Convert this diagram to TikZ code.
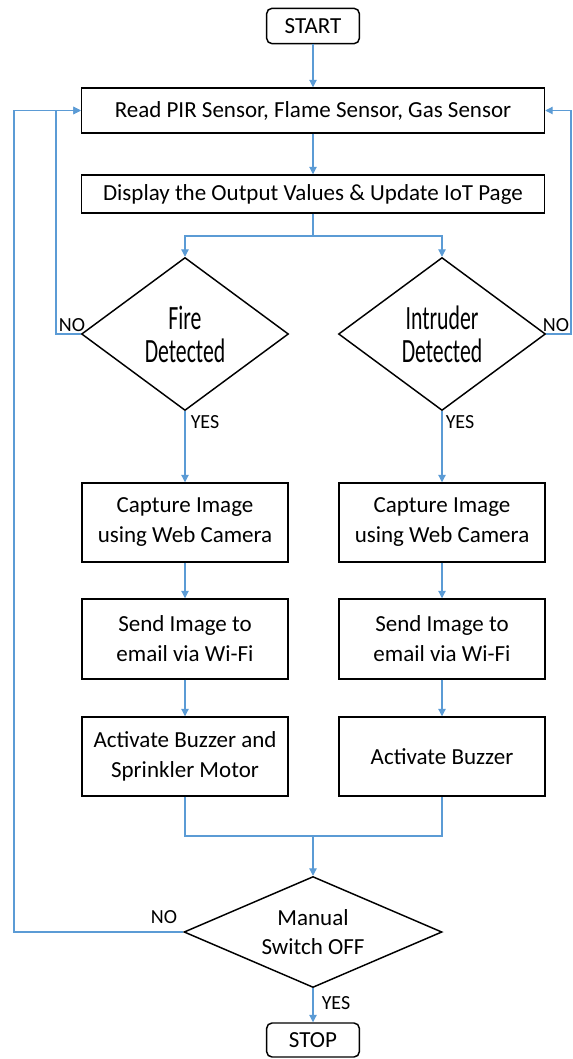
\documentclass[tikz,border=0pt]{standalone}
\usepackage{fontspec}
\setmainfont{Carlito}
\newfontfamily\stretta[FakeStretch=0.64]{Carlito}
\usetikzlibrary{shapes.geometric, arrows.meta}
\definecolor{azzurro}{RGB}{91,155,213}

\tikzset{
    blocco/.style={draw, line width=1.1pt, align=center, inner sep=0pt,
        font=\fontsize{17.25}{22.5}\selectfont, minimum width=154.5pt, minimum height=59.25pt},
    largo/.style={blocco, font=\fontsize{17.25}{20}\selectfont, minimum width=347.25pt},
    terminale/.style={draw, line width=1.1pt, rounded corners=4pt, inner sep=0pt,
        font=\fontsize{17.25}{20}\selectfont, minimum width=69.5pt, minimum height=26.5pt},
    scelta/.style={draw, diamond, line width=1.1pt, align=center, inner sep=0pt},
    linea/.style={draw=azzurro, line width=0.8pt},
    freccia/.style={linea, -{Triangle[length=5.5pt, width=5.5pt]}},
    etichetta/.style={font=\fontsize{15}{17}\selectfont, inner sep=0pt}
}

\begin{document}
\begin{tikzpicture}[x=0.75pt, y=-0.75pt]
        \useasboundingbox (0,0) rectangle (573,1059);
        % blocchi
            \node[terminale] (start) at (313,26) {START};
            \node[largo, minimum height=33.75pt] (read) at (313,110.5) {Read PIR Sensor, Flame Sensor, Gas Sensor};
            \node[largo, minimum height=28.5pt] (disp) at (313,194) {Display the Output Values \& Update IoT Page};
            \node[scelta, minimum width=155.25pt, minimum height=114.75pt,
                font=\stretta\fontsize{25.5}{24.75}\selectfont] (fire) at (185,334) {Fire\\Detected};
            \node[scelta, minimum width=155.25pt, minimum height=114.75pt,
                font=\stretta\fontsize{25.5}{24.75}\selectfont] (intr) at (442,334) {Intruder\\Detected};
            \node[blocco] (capL) at (185,522.5) {Capture Image\\using Web Camera};
            \node[blocco] (capR) at (442,522.5) {Capture Image\\using Web Camera};
            \node[blocco, minimum height=60pt] (sendL) at (185,639) {Send Image to\\email via Wi-Fi};
            \node[blocco, minimum height=60pt] (sendR) at (442,639) {Send Image to\\email via Wi-Fi};
            \node[blocco] (actL) at (185,756.5) {Activate Buzzer and\\Sprinkler Motor};
            \node[blocco] (actR) at (442,756.5) {Activate Buzzer};
            \node[scelta, shape aspect=2.3, minimum width=193.5pt, minimum height=83.25pt,
                font=\fontsize{17.25}{21.75}\selectfont] (man) at (313,932) {Manual\\Switch OFF};
            \node[terminale, minimum height=25.5pt] (stop) at (313,1040) {STOP};
        % punti di snodo
            \coordinate (split) at (313,236);
            \coordinate (noF) at (56,334);
            \coordinate (noI) at (571,334);
            \coordinate (mrg) at (313,836);
            \coordinate (noM) at (14,932);
        % frecce
            \draw[freccia] (start) -- (read);
            \draw[freccia] (read) -- (disp);
            \draw[linea] (disp) -- (split);
            \draw[freccia] (split) -| (fire);
            \draw[freccia] (split) -| (intr);
            \draw[freccia] (fire) -- (capL);
            \draw[freccia] (intr) -- (capR);
            \draw[freccia] (capL) -- (sendL);
            \draw[freccia] (capR) -- (sendR);
            \draw[freccia] (sendL) -- (actL);
            \draw[freccia] (sendR) -- (actR);
            \draw[linea] (actL.south) |- (mrg) -| (actR.south);
            \draw[freccia] (mrg) -- (man);
            \draw[freccia] (man) -- (stop);
            \draw[freccia] (fire.west) -- (noF) |- (read.west);
            \draw[freccia] (intr.east) -- (noI) |- (read.east);
            \draw[freccia] (man.west) -- (noM) |- (read.west);
        % etichette
            \node[etichetta] (noFl) at (72,325) {NO};
            \node[etichetta] (noIl) at (556,325) {NO};
            \node[etichetta] (siF) at (205,422) {YES};
            \node[etichetta] (siI) at (460,422) {YES};
            \node[etichetta] (noMl) at (164,917) {NO};
            \node[etichetta] (siM) at (336,1003) {YES};
        \end{tikzpicture}
\end{document}
